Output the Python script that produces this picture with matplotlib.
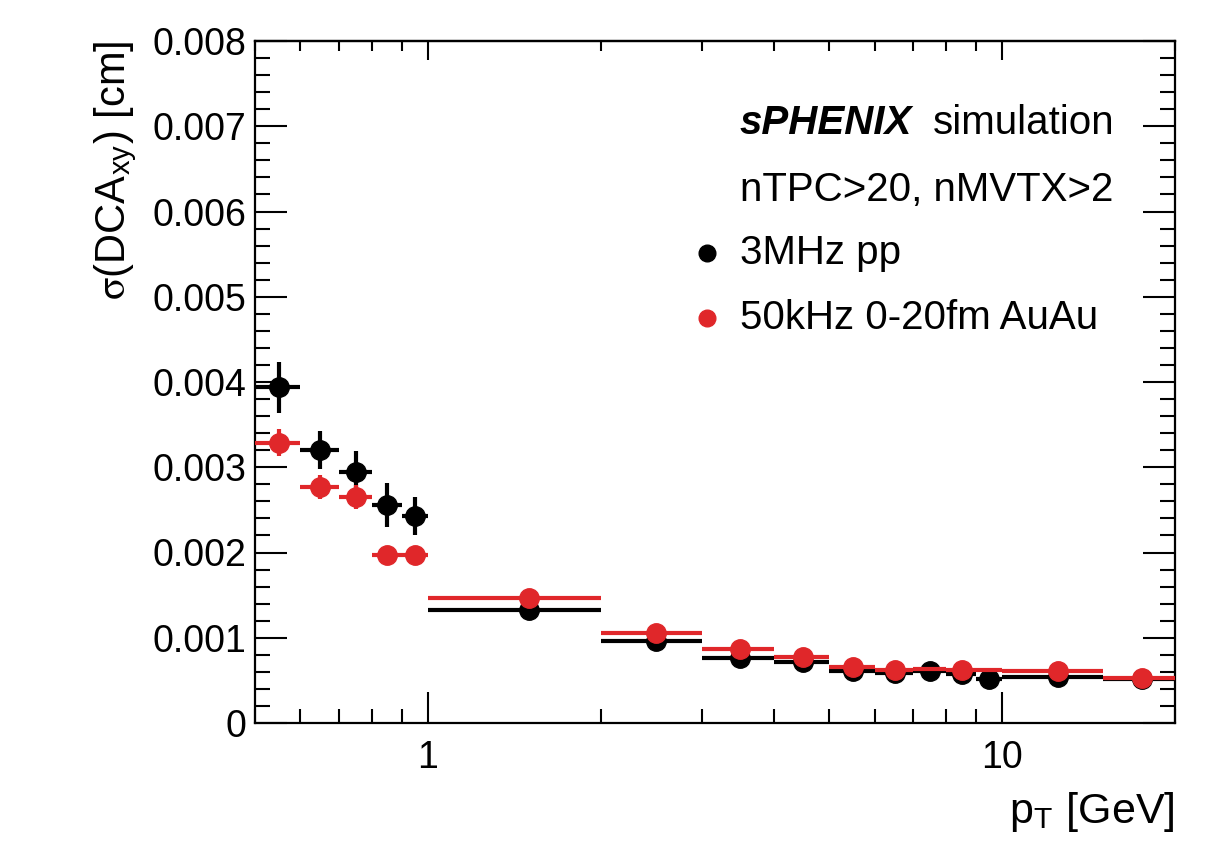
import matplotlib
matplotlib.use("Agg")
import matplotlib.pyplot as plt
import numpy as np
from matplotlib.ticker import MultipleLocator, LogLocator, NullFormatter, FixedLocator, FixedFormatter

# ---- data ----
pt_lo = [0.5, 0.6, 0.7, 0.8, 0.9, 1, 2, 3, 4, 5, 6, 7, 8, 9, 10, 15]
pt_hi = [0.6, 0.7, 0.8, 0.9, 1.0, 2, 3, 4, 5, 6, 7, 8, 9, 10, 15, 20]
pp_sigma = [3.94, 3.20, 2.94, 2.56, 2.43, 1.33, 0.96, 0.76, 0.71, 0.61, 0.59,
            0.61, 0.58, 0.52, 0.54, 0.52]          # x 1e-3 cm
pp_err = [0.30, 0.22, 0.25, 0.26, 0.22, 0, 0, 0, 0, 0, 0, 0, 0, 0, 0, 0]
auau_sigma = [3.29, 2.77, 2.65, 1.97, 1.97, 1.47, 1.05, 0.87, 0.77, 0.66, 0.62,
              0.635, 0.62, 0.62, 0.615, 0.53]      # x 1e-3 cm
auau_err = [0.16, 0.14, 0.14, 0.08, 0.08, 0, 0, 0, 0, 0, 0, 0, 0, 0, 0, 0]
auau_marker_shown = [1, 1, 1, 1, 1, 1, 1, 1, 1, 1, 1, 0, 1, 0, 1, 1]

series_labels = ["3MHz pp", "50kHz 0-20fm AuAu"]
y_ticks = [0, 0.001, 0.002, 0.003, 0.004, 0.005, 0.006, 0.007, 0.008]
y_tick_labels = ["0", "0.001", "0.002", "0.003", "0.004", "0.005", "0.006", "0.007", "0.008"]

plt.rcParams['font.family'] = ['Liberation Sans', 'DejaVu Sans']
plt.rcParams['mathtext.fontset'] = 'stix'

W, H = 1231, 841
fig = plt.figure(figsize=(W / 100, H / 100), dpi=100)
ax = fig.add_axes([255 / W, 1 - 723 / H, (1175 - 255) / W, (723 - 41) / H])

lo = np.array(pt_lo)
hi = np.array(pt_hi)
ctr = 0.5 * (lo + hi)
xerr = np.vstack([ctr - lo, hi - ctr])

black = "#000000"
red = "#e0272a"
ms = 14
lw = 3.0

pp = np.array(pp_sigma) * 1e-3
ppe = np.array(pp_err) * 1e-3
au = np.array(auau_sigma) * 1e-3
aue = np.array(auau_err) * 1e-3
shown = np.array(auau_marker_shown, dtype=bool)

ax.errorbar(ctr, pp, xerr=xerr, yerr=ppe, fmt='o', color=black, ms=ms,
            elinewidth=lw, capsize=0, zorder=3)
ax.errorbar(ctr[shown], au[shown], xerr=xerr[:, shown], yerr=aue[shown], fmt='o',
            color=red, ms=ms, elinewidth=lw, capsize=0, zorder=4)
ax.errorbar(ctr[~shown], au[~shown], xerr=xerr[:, ~shown], yerr=aue[~shown], fmt='none',
            ecolor=red, elinewidth=lw, capsize=0, zorder=4)

ax.set_xscale('log')
ax.set_xlim(0.5, 20)
ax.set_ylim(0, 0.008)

ax.yaxis.set_major_locator(FixedLocator(y_ticks))
ax.yaxis.set_major_formatter(FixedFormatter(y_tick_labels))
ax.yaxis.set_minor_locator(MultipleLocator(0.0002))
ax.xaxis.set_major_locator(FixedLocator([1, 10]))
ax.xaxis.set_major_formatter(FixedFormatter(["1", "10"]))
ax.xaxis.set_minor_locator(LogLocator(base=10, subs=np.arange(2, 10)))
ax.xaxis.set_minor_formatter(NullFormatter())

for s in ax.spines.values():
    s.set_linewidth(1.6)

ax.tick_params(axis='y', which='major', direction='in', length=23, width=1.5,
               left=True, right=True, labelsize=27, pad=6)
ax.tick_params(axis='y', which='minor', direction='in', length=11, width=1.5,
               left=True, right=True)
ax.tick_params(axis='x', which='major', direction='in', length=22, width=1.5,
               bottom=True, top=False, labelsize=27, pad=12)
ax.tick_params(axis='x', which='minor', direction='in', length=10, width=1.5,
               bottom=True, top=False)

sec = ax.secondary_xaxis('top')
sec.set_xscale('log')
sec.xaxis.set_major_locator(FixedLocator([1, 10]))
sec.xaxis.set_minor_locator(LogLocator(base=10, subs=np.arange(2, 10)))
sec.xaxis.set_major_formatter(NullFormatter())
sec.xaxis.set_minor_formatter(NullFormatter())
sec.tick_params(axis='x', which='major', direction='in', length=14, width=1.5)
sec.tick_params(axis='x', which='minor', direction='in', length=7, width=1.5)
sec.spines['top'].set_linewidth(1.6)

ax.set_ylabel(r'$\mathrm{\sigma}$(DCA$_{\mathregular{xy}}$) [cm]', fontsize=30, loc='top', labelpad=10)
ax.set_xlabel(r'p$_{\mathregular{T}}$ [GeV]', fontsize=31, loc='right', labelpad=10)

# ---- legend / annotations ----
fs = 29
fig.text(740 / W, 1 - 123 / H, "sPHENIX", fontsize=fs, fontweight='bold', fontstyle='italic',
         ha='left', va='center')
fig.text(933 / W, 1 - 123 / H, "simulation", fontsize=fs, ha='left', va='center')
fig.text(740 / W, 1 - 190 / H, "nTPC>20, nMVTX>2", fontsize=fs, ha='left', va='center')
for lab, col, yy in zip(series_labels, [black, red], [253, 318]):
    fig.add_artist(plt.Line2D([707 / W], [1 - yy / H], marker='o', color=col, ms=12,
                              linestyle='none', transform=fig.transFigure))
    fig.text(740 / W, 1 - yy / H, lab, fontsize=fs, ha='left', va='center')

fig.savefig("out.png", dpi=100)
